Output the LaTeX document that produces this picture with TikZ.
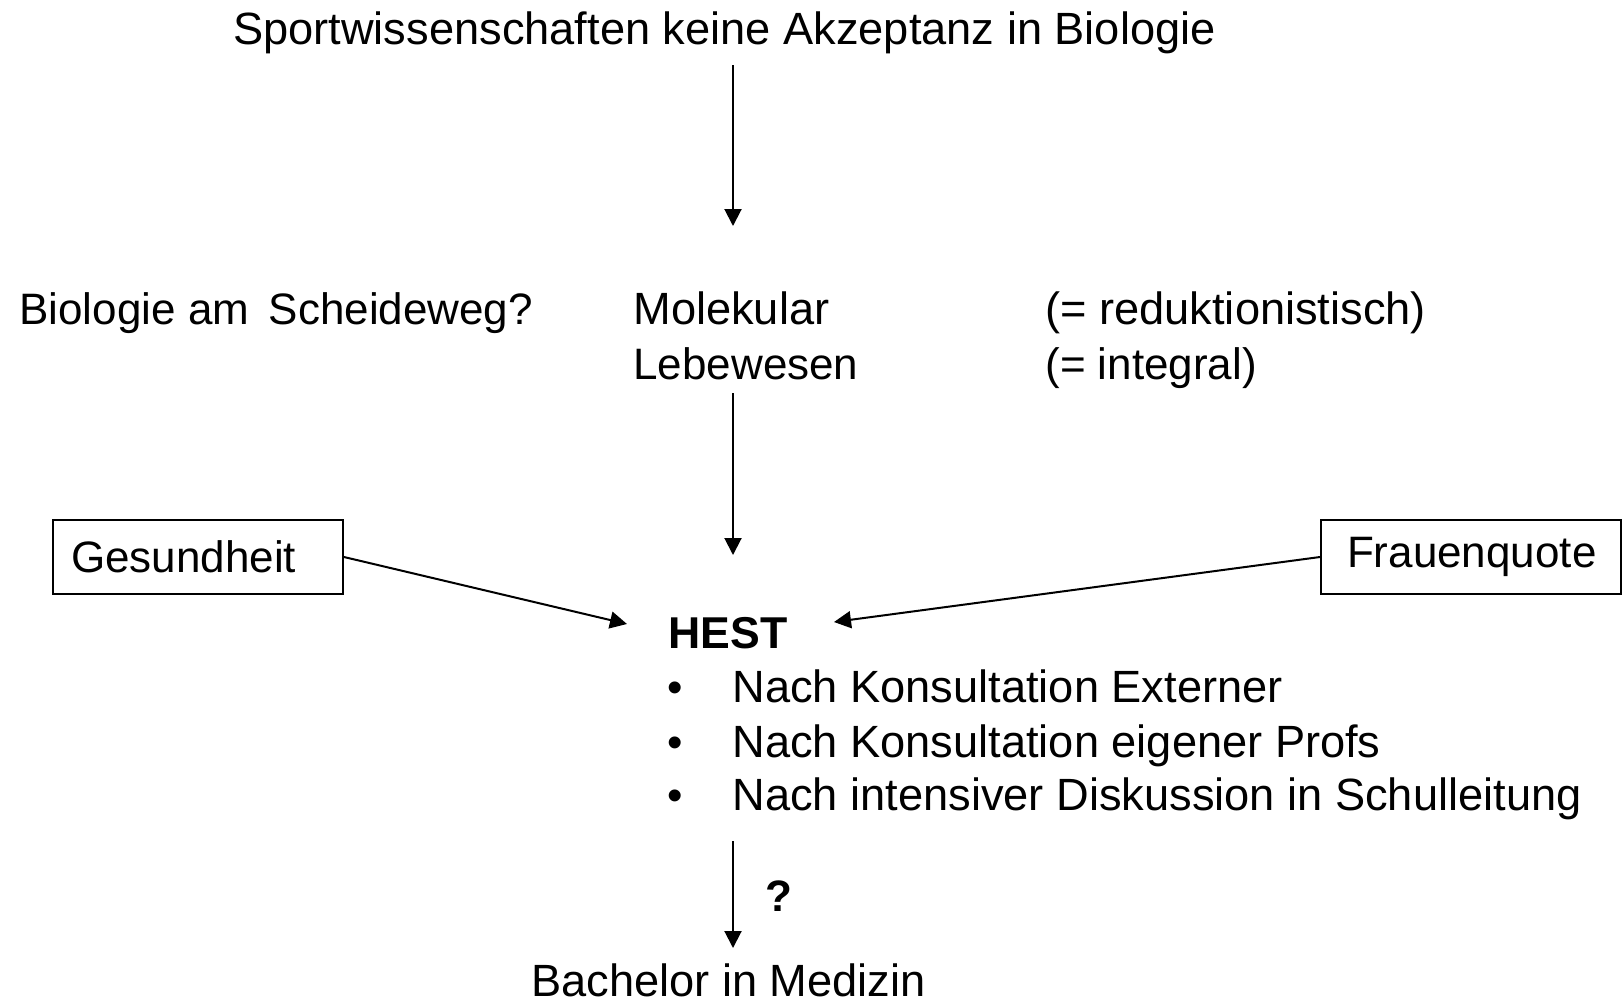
\documentclass[tikz,border=0pt]{standalone}
\usepackage{fontspec}
\setmainfont{Liberation Sans}
\usetikzlibrary{arrows.meta}
\begin{document}
\begin{tikzpicture}[x=0.5pt,y=-0.5pt,
  txt/.style={font=\fontsize{22}{26}\selectfont, inner sep=0pt},
  wtxt/.style={font=\fontsize{22.6}{26}\selectfont, inner sep=0pt},
  boxnode/.style={draw, line width=1pt, font=\fontsize{22}{26}\selectfont,
    align=left, minimum height=37pt, inner ysep=0pt},
  arr/.style={-{Triangle[width=8.5pt,length=8.5pt]}, line width=1pt}]
\useasboundingbox (0,0) rectangle (1623,1003);

\node[wtxt, anchor=base] (title) at (724.5,44) {Sportwissenschaften\ keine Akzeptanz in Biologie};

\node[txt, anchor=base west] (scheide) at (19,324) {Biologie am\ \,Scheideweg?};
\node[wtxt, anchor=base west] (mol) at (633,324) {Molekular};
\node[txt, anchor=base west] (leb) at (633,379) {Lebewesen};
\node[wtxt, anchor=base west] (red) at (1045,324) {(= reduktionistisch)};
\node[txt, anchor=base west] (int) at (1045,379) {(= integral)};

\node[boxnode, anchor=north west, text width=127pt, inner xsep=9pt] (ges) at (52,519) {Gesundheit};
\node[boxnode, anchor=north east, text width=124pt, inner xsep=13pt] (frau) at (1622,519) {Frauenquote};

\node[txt, anchor=base west, font=\fontsize{22.3}{26}\selectfont\bfseries] (hest) at (668,648) {HEST};
\node[txt, anchor=base] (b1) at (675,702) {\textbullet};
\node[txt, anchor=base] (b2) at (675,757) {\textbullet};
\node[txt, anchor=base] (b3) at (675,810) {\textbullet};
\node[wtxt, anchor=base west] (l1) at (732,702) {Nach Konsultation Externer};
\node[wtxt, anchor=base west] (l2) at (732,757) {Nach Konsultation\ eigener Profs};
\node[wtxt, anchor=base west] (l3) at (732,810) {Nach intensiver Diskussion in Schulleitung};

\node[txt, anchor=base west, font=\fontsize{22}{26}\selectfont\bfseries] (q) at (765,911) {?};
\node[wtxt, anchor=base] (bach) at (728.5,996) {Bachelor\ in Medizin};

\coordinate (a1s) at (733,65);
\coordinate (a1e) at (733,226);
\coordinate (a2s) at (733,393);
\coordinate (a2e) at (733,555);
\coordinate (a3s) at (733,841);
\coordinate (a3e) at (733,948);
\coordinate (gtip) at (627,624);
\coordinate (ftip) at (834,622);

\draw[arr] (a1s) -- (a1e);
\draw[arr] (a2s) -- (a2e);
\draw[arr] (a3s) -- (a3e);
\draw[arr] (ges.east) -- (gtip);
\draw[arr] (frau.west) -- (ftip);
\end{tikzpicture}
\end{document}
